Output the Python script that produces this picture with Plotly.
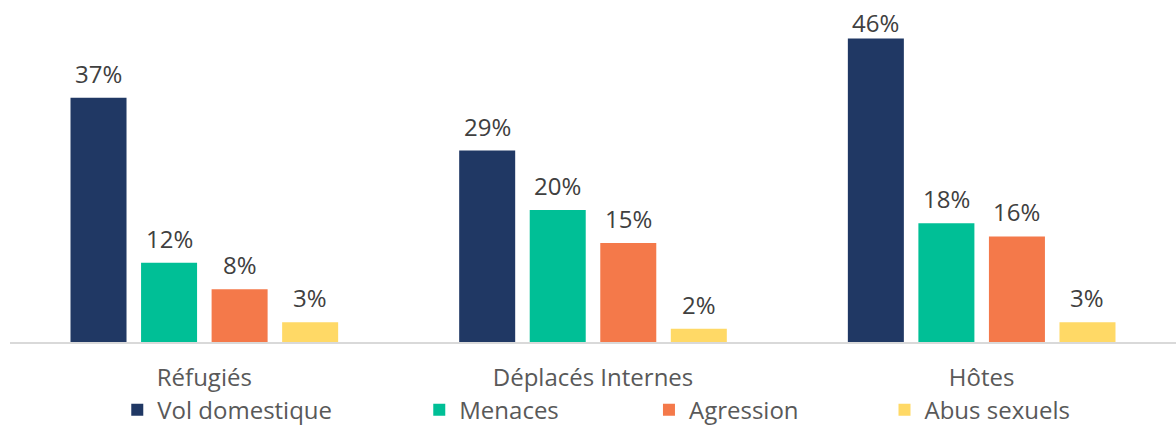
import plotly.graph_objects as go

# Groups and series
categories = ["Réfugiés", "Déplacés Internes", "Hôtes"]
series_names = ["Vol domestique", "Menaces", "Agression", "Abus sexuels"]
vol_domestique = [37, 29, 46]
menaces = [12, 20, 18]
agression = [8, 15, 16]
abus_sexuels = [3, 2, 3]
series_values = [vol_domestique, menaces, agression, abus_sexuels]
colors = ["#203864", "#00BF96", "#F4794A", "#FFD966"]
legend_x = [0.092, 0.351, 0.548, 0.750]

Y_MAX = 50.3
BARGAP = 0.274
GROUPGAP = 0.206
FONT = "Open Sans"
FONT_SIZE = 24
TEXT_COLOR = "#595959"
LABEL_COLOR = "#404040"

fig = go.Figure()
n = len(series_names)
annotations = []
for i, (name, vals, col) in enumerate(zip(series_names, series_values, colors)):
    legend_id = "legend" if i == 0 else f"legend{i + 1}"
    fig.add_trace(go.Bar(
        name=name, x=categories, y=vals, marker_color=col,
        marker_line_width=0, legend=legend_id, showlegend=True,
        hoverinfo="skip",
    ))
    # value labels sit above each bar, centred on its slot in the group;
    # labels close to the top of the frame are tucked nearer their bar
    slot = (1 - BARGAP) / n
    for j, v in enumerate(vals):
        shift = -3 if v > 0.88 * Y_MAX else 6
        annotations.append(dict(
            x=j + (i - (n - 1) / 2) * slot, y=v, xref="x", yref="y",
            text=f"{v}%", showarrow=False, yanchor="bottom", yshift=shift,
            font=dict(family=FONT, size=FONT_SIZE, color=LABEL_COLOR),
        ))

legend_common = dict(
    orientation="h", y=-0.205, yanchor="middle", xanchor="left",
    font=dict(family=FONT, size=FONT_SIZE, color=TEXT_COLOR),
    bgcolor="rgba(0,0,0,0)", itemclick=False, itemdoubleclick=False,
    visible=True,
)
layout_legends = {}
for i, lx in enumerate(legend_x):
    key = "legend" if i == 0 else f"legend{i + 1}"
    layout_legends[key] = dict(x=lx, **legend_common)

fig.update_layout(
    width=1176, height=428,
    margin=dict(l=10, r=0, t=10, b=86, autoexpand=False),
    paper_bgcolor="white", plot_bgcolor="white",
    showlegend=True,
    barmode="group", bargap=BARGAP, bargroupgap=GROUPGAP,
    font=dict(family=FONT, color=TEXT_COLOR),
    annotations=annotations,
    xaxis=dict(
        showline=True, linecolor="#D9D9D9", linewidth=1.5,
        showgrid=False, ticks="", ticklabelstandoff=13,
        tickfont=dict(family=FONT, size=FONT_SIZE, color=TEXT_COLOR),
    ),
    yaxis=dict(range=[0, Y_MAX], visible=False, showgrid=False, zeroline=False),
    **layout_legends,
)

fig.write_html("out.html")
